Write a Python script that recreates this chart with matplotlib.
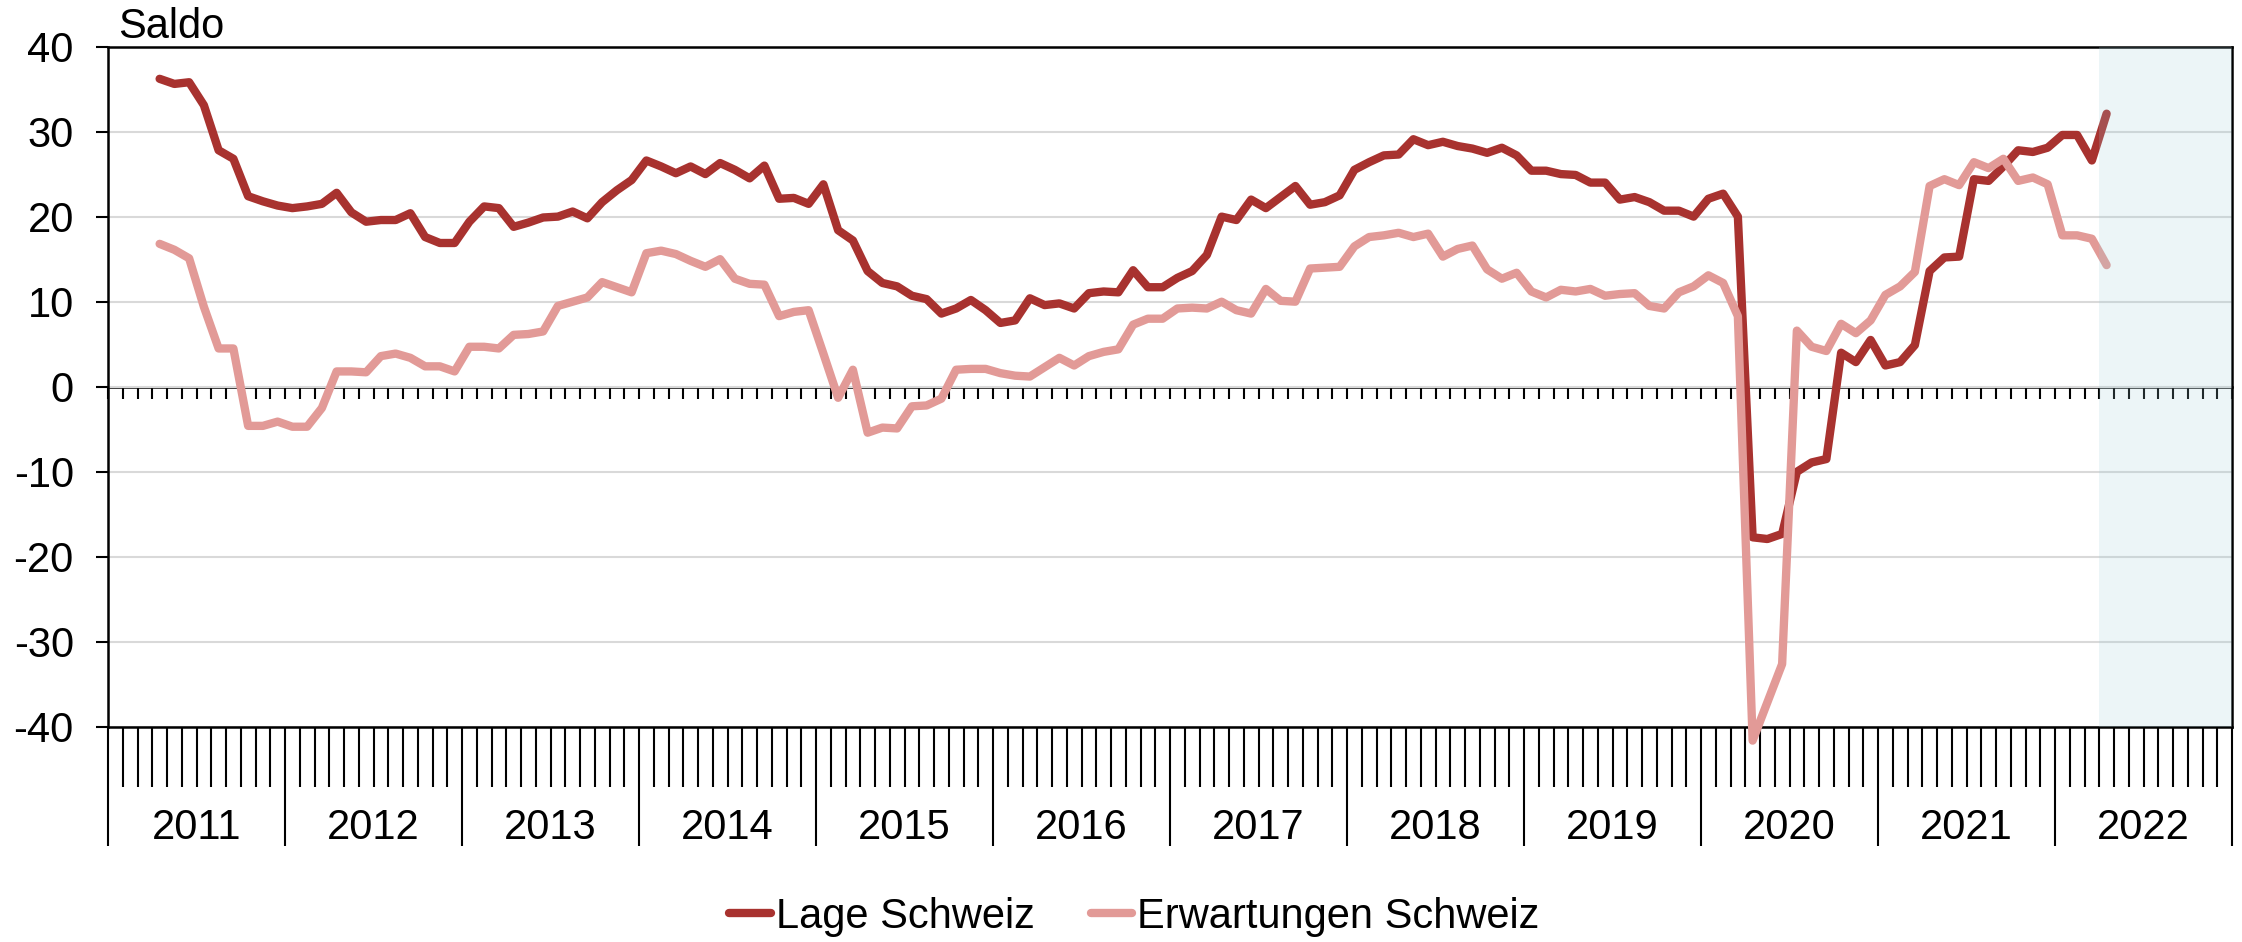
import matplotlib
matplotlib.use("Agg")
import matplotlib.pyplot as plt
import matplotlib.transforms as mtransforms
import numpy as np
import pandas as pd

plt.rcParams['font.family'] = ['Liberation Sans', 'DejaVu Sans']
plt.rcParams['axes.unicode_minus'] = False

# ---- data (monthly, April 2011 - April 2022) ----
start_month = "2011-04"
end_month = "2022-04"
lage_schweiz = [
    36.2, 35.6, 35.8, 33.1, 27.8, 26.8, 22.4, 21.8, 21.3, 21.0, 21.2, 21.5, 22.8, 20.5, 19.4, 19.6, 19.6, 20.4, 17.6, 16.9, 16.9,
    19.4, 21.2, 21.0, 18.8, 19.3, 19.9, 20.0, 20.6, 19.8, 21.7, 23.1, 24.3, 26.6, 25.9, 25.1, 25.9, 25.0, 26.3, 25.5, 24.5, 26.0, 22.1, 22.2, 21.5,
    23.8, 18.4, 17.2, 13.6, 12.2, 11.8, 10.7, 10.3, 8.6, 9.2, 10.2, 9.0, 7.5, 7.8, 10.4, 9.6, 9.8, 9.2, 11.0, 11.2, 11.1, 13.7, 11.7, 11.7,
    12.8, 13.6, 15.5, 20.0, 19.6, 22.0, 21.0, 22.3, 23.6, 21.4, 21.7, 22.5, 25.5, 26.4, 27.2, 27.3, 29.1, 28.4, 28.8, 28.3, 28.0, 27.5, 28.1, 27.2,
    25.4, 25.4, 25.0, 24.9, 24.0, 24.0, 22.0, 22.3, 21.7, 20.7, 20.7, 20.0, 22.1, 22.7, 20.0, -17.7, -17.9, -17.3, -10.0, -8.9, -8.5, 4.0, 2.9, 5.5,
    2.5, 2.9, 4.9, 13.6, 15.2, 15.3, 24.4, 24.2, 25.9, 27.8, 27.6, 28.1, 29.6, 29.6, 26.6, 32.1,
]
erwartungen_schweiz = [
    16.8, 16.1, 15.1, 9.4, 4.5, 4.5, -4.6, -4.6, -4.1, -4.7, -4.7, -2.5, 1.8, 1.8, 1.7, 3.6, 3.9, 3.4, 2.4, 2.4, 1.8,
    4.7, 4.7, 4.5, 6.1, 6.2, 6.5, 9.5, 10.0, 10.5, 12.3, 11.7, 11.1, 15.7, 16.0, 15.6, 14.8, 14.1, 15.0, 12.7, 12.1, 12.0, 8.3, 8.8, 9.0,
    3.9, -1.3, 2.0, -5.4, -4.8, -4.9, -2.3, -2.2, -1.4, 2.0, 2.1, 2.1, 1.6, 1.3, 1.2, 2.3, 3.4, 2.5, 3.6, 4.1, 4.4, 7.3, 8.0, 8.0,
    9.2, 9.3, 9.2, 10.0, 9.0, 8.6, 11.5, 10.1, 10.0, 13.9, 14.0, 14.1, 16.5, 17.6, 17.8, 18.1, 17.6, 18.0, 15.3, 16.2, 16.6, 13.8, 12.7, 13.4,
    11.2, 10.5, 11.4, 11.2, 11.5, 10.7, 10.9, 11.0, 9.5, 9.2, 11.1, 11.8, 13.1, 12.2, 8.3, -41.6, -37.1, -32.6, 6.6, 4.7, 4.2, 7.4, 6.3, 7.8,
    10.8, 11.8, 13.5, 23.6, 24.4, 23.7, 26.4, 25.7, 26.8, 24.2, 24.6, 23.8, 17.8, 17.8, 17.4, 14.3,
]
years = list(range(2011, 2023))
series_labels = ["Lage Schweiz", "Erwartungen Schweiz"]
y_label = "Saldo"
shade_start = "2022-04"

# ---- figure ----
FS = 30
W, H = 2242, 942
fig = plt.figure(figsize=(W / 100, H / 100), dpi=100)
ax_left, ax_right, ax_top, ax_bottom = 108, 2232, 46.5, 727
ax = fig.add_axes([ax_left / W, 1 - ax_bottom / H, (ax_right - ax_left) / W, (ax_bottom - ax_top) / H])

base_year = years[0]
periods = pd.period_range(start_month, end_month, freq="M")
x = (periods.year - base_year) * 12 + periods.month - 1 + 0.5
n_months = len(years) * 12

dark = "#A8322F"
light = "#E29A97"
l1, = ax.plot(x, lage_schweiz, color=dark, lw=6, solid_capstyle="round",
              solid_joinstyle="round", zorder=3, label=series_labels[0], clip_on=False)
l2, = ax.plot(x, erwartungen_schweiz, color=light, lw=6, solid_capstyle="round",
              solid_joinstyle="round", zorder=3.1, label=series_labels[1], clip_on=False)

sp = pd.Period(shade_start, freq="M")
sx = (sp.year - base_year) * 12 + sp.month - 1
ax.axvspan(sx, n_months, facecolor="#A0CDD7", alpha=0.2, lw=0, zorder=5)

ax.set_xlim(0, n_months)
ax.set_ylim(-40, 40)
ax.set_yticks(np.arange(-40, 41, 10))
ax.grid(axis="y", color="#D9D9D9", lw=1.5)
ax.tick_params(axis="y", length=8.6, width=1.5, pad=16, labelsize=FS, colors="black")

ax.set_xticks(np.arange(0, n_months + 1, 12))
ax.set_xticks(np.arange(0, n_months + 1, 1), minor=True)
ax.set_xticklabels([])
ax.tick_params(axis="x", which="major", length=86, width=1.5, direction="out")
ax.tick_params(axis="x", which="minor", length=43, width=1.5, direction="out")
for s in ax.spines.values():
    s.set_linewidth(1.8)
    s.set_color("black")

# zero axis with month ticks
sec = ax.secondary_xaxis(0.5)
sec.set_alignment("bottom")
sec.set_xticks(np.arange(0, n_months + 1, 1))
sec.set_xticklabels([])
sec.tick_params(axis="x", length=8.6, width=1.5, direction="out")
sec.spines["bottom"].set_linewidth(1.8)

# year labels
trans = mtransforms.blended_transform_factory(ax.transData, ax.transAxes)
for k, yr in enumerate(years):
    ax.text(12 * k + 6, -0.1477, str(yr), transform=trans, ha="center", va="center", fontsize=FS)

fig.text(118 / W, 1 - 38 / H, y_label, fontsize=FS, ha="left", va="baseline")

fig.legend(handles=[l1, l2], labels=series_labels, loc="center", bbox_to_anchor=(0.506, 0.027),
           ncol=2, frameon=False, fontsize=FS, handlelength=1.0, handletextpad=0.12,
           columnspacing=1.35, borderaxespad=0, borderpad=0)

fig.savefig("out.png", dpi=100)
